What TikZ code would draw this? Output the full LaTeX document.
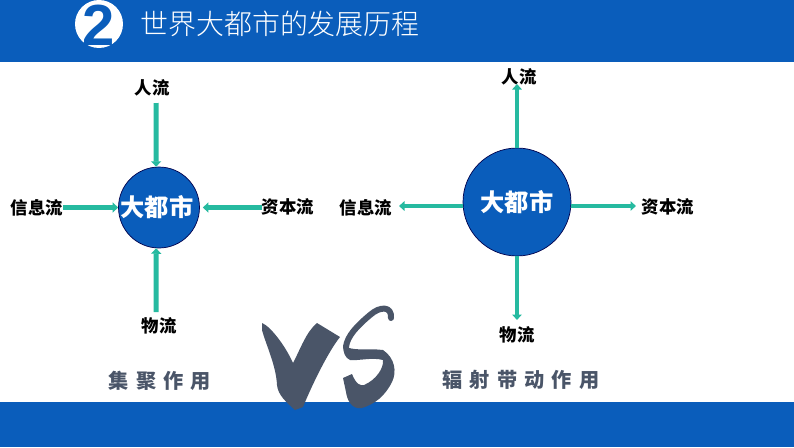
\documentclass[tikz,border=0pt]{standalone}
\usepackage{fontspec}
\usetikzlibrary{arrows.meta}
\setmainfont{Liberation Sans}
\newfontfamily\cjk{Noto Sans CJK SC}
\newfontfamily\cjklight{Noto Sans CJK SC}[UprightFont=* Light]
\newfontfamily\cjkbrush{Noto Sans CJK SC}[UprightFont=* Black,LetterSpace=35]
\definecolor{bandblue}{RGB}{10,93,187}
\definecolor{flowgreen}{RGB}{38,186,160}
\definecolor{slate}{RGB}{74,85,104}

\begin{document}
\begin{tikzpicture}[x=0.02cm,y=-0.02cm,
	flow/.style={flowgreen,line width=0.08cm,-{Triangle[width=0.19cm,length=0.11cm]}},
	flowin/.style={flow,line width=0.1cm,-{Triangle[width=0.2cm,length=0.11cm]}},
	hub/.style={draw=black!70!blue,fill=bandblue,circle,inner sep=0pt,text=white,font=\cjk\bfseries\fontsize{13.8}{16}\selectfont},
	lab/.style={inner sep=0pt,text=black,font=\cjk\bfseries\fontsize{9.9}{12}\selectfont},
	brush/.style={inner sep=0pt,text=slate,font=\cjkbrush\fontsize{11.5}{14}\selectfont}]
	\useasboundingbox (0,0) rectangle (794,447);
	\fill[bandblue] (0,0) rectangle (794,62);
	\fill[bandblue] (0,402) rectangle (794,447);
	
	\node (badge) [fill=white,circle,minimum size=0.96cm,inner sep=0pt] at (99,24) {};
	\node (two) [inner sep=0pt,text=bandblue,font=\bfseries\fontsize{33}{33}\selectfont] at (99,25) {2};
	\node (title) [inner sep=0pt,text=white,font=\cjklight\fontsize{15.9}{20}\selectfont] at (280,24) {世界大都市的发展历程};
	
	% left: everything flows in
	\node (hubL) [hub,minimum size=1.62cm] at (159,207.5) {\hspace{-0.08cm}大都市};
	\node (peopleL) [lab] at (152,88) {人流};
	\node (infoL) [lab] at (37,208) {信息流};
	\node (capitalL) [lab] at (288,207) {资本流};
	\node (goodsL) [lab] at (159,326) {物流};
	\coordinate (c1) at (156,103);
	\coordinate (c2) at (63,207.5);
	\coordinate (c3) at (262,207.5);
	\coordinate (c4) at (156,312);
	\draw[flowin] (c1) -- (hubL.94);
	\draw[flowin] (c2) -- (hubL.west);
	\draw[flowin] (c3) -- ([xshift=0.06cm]hubL.east);
	\draw[flowin] (c4) -- (hubL.266);
	
	% right: everything flows out
	\node (hubR) [hub,minimum size=2.16cm] at (517,202) {大都市};
	\node (peopleR) [lab] at (519,77) {人流};
	\node (infoR) [lab] at (366,208) {信息流};
	\node (capitalR) [lab] at (668,207) {资本流};
	\node (goodsR) [lab] at (517,335) {物流};
	\coordinate (d1) at (517,84);
	\coordinate (d2) at (399,206);
	\coordinate (d3) at (636,206);
	\coordinate (d4) at (517,320);
	\draw[flow] (hubR.north) -- (d1);
	\draw[flow] (d2 -| hubR.west) -- (d2);
	\draw[flow] (d3 -| hubR.east) -- (d3);
	\draw[flow] (hubR.south) -- (d4);
	
	\node (gather) [brush] at (160,381) {集聚作用};
	\node (radiate) [brush] at (521,380) {辐射带动作用};
	
	% the V and the S
	\fill[slate] (262,323) .. controls (270,326) and (285,345) .. (293,363)
		.. controls (300,350) and (306,332) .. (317,323) -- (340,337)
		.. controls (328,352) and (312,385) .. (303,407) -- (295,410)
		.. controls (286,402) and (278,395) .. (277,385)
		.. controls (276,365) and (266,345) .. (262,330) -- cycle;
	\draw[slate,line width=0.12cm,line cap=round,line join=round] (391,318) .. controls (392,306) and (380,306) .. (370,315)
		.. controls (358,325) and (347,336) .. (346,347);
	\fill[slate] (343,345) .. controls (352,352) and (368,348) .. (383,350)
		.. controls (395,358) and (397,372) .. (392,382)
		.. controls (385,396) and (375,404) .. (362,408)
		.. controls (352,410) and (347,400) .. (346,392)
		-- (343,378) -- (352,374)
		.. controls (356,384) and (360,386) .. (364,385)
		.. controls (376,380) and (384,368) .. (383,360)
		.. controls (372,357) and (358,361) .. (350,360)
		.. controls (345,358) and (343,352) .. (343,345) -- cycle;
\end{tikzpicture}
\end{document}
